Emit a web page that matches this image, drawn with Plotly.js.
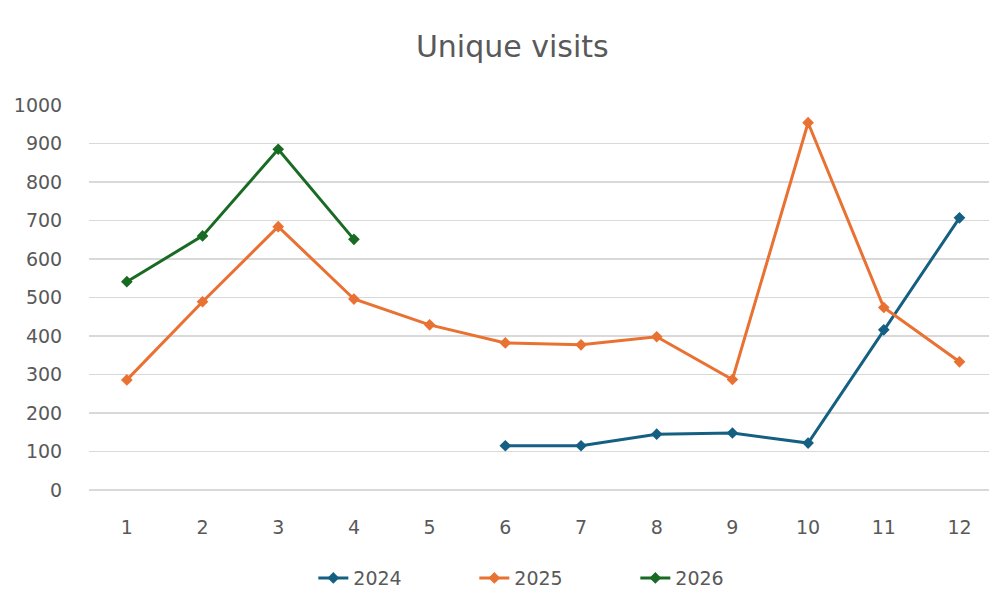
<!DOCTYPE html>
<html>
<head>
<meta charset="utf-8">
<script src="https://cdn.plot.ly/plotly-3.0.1.min.js"></script>
<style>html,body{margin:0;padding:0;background:#fff;}#chart{width:989px;height:599px;}</style>
</head>
<body>
<div id="chart"></div>
<script>
const months = [1,2,3,4,5,6,7,8,9,10,11,12];
const visits2024 = [null,null,null,null,null,115,115,145,148,122,416,707];
const visits2025 = [286,489,684,496,429,382,377,398,287,954,474,333];
const visits2026 = [541,660,885,651,null,null,null,null,null,null,null,null];
const seriesNames = ['2024','2025','2026'];
const colors = ['#156082','#E97132','#196B24'];
const yTicks = [0,100,200,300,400,500,600,700,800,900,1000];

const data = [visits2024, visits2025, visits2026].map((vals, i) => ({
  x: months, y: vals, name: seriesNames[i], type: 'scatter', mode: 'lines+markers',
  line: {color: colors[i], width: 3},
  marker: {symbol: 'diamond', size: 9, color: colors[i]},
  connectgaps: false
}));

const fam = '"DejaVu Sans", sans-serif';
const layout = {
  width: 989, height: 599,
  margin: {l: 89, r: 0, t: 105, b: 109},
  paper_bgcolor: '#fff', plot_bgcolor: '#fff',
  font: {family: fam, color: '#595959', size: 19},
  title: {text: 'Unique visits', x: 0.518, xanchor: 'center', y: 0.922, yanchor: 'middle',
          font: {size: 30, color: '#595959', family: fam}},
  xaxis: {range: [0.5, 12.39], tickvals: months, ticktext: months.map(String),
          showgrid: false, zeroline: false, showline: false,
          ticks: 'outside', ticklen: 20, tickcolor: 'rgba(0,0,0,0)', tickfont: {size: 19, color: '#595959', family: fam}},
  yaxis: {range: [0, 1000], tickvals: yTicks, showgrid: true, gridcolor: '#d9d9d9', gridwidth: 1.8,
          zeroline: true, zerolinecolor: '#d9d9d9', zerolinewidth: 1.8, showline: false,
          ticks: 'outside', ticklen: 22, tickcolor: 'rgba(0,0,0,0)', tickfont: {size: 19, color: '#595959', family: fam}},
  showlegend: true,
  legend: {orientation: 'h', xref: 'container', yref: 'container', x: 0.561, xanchor: 'center',
           y: 0.035, yanchor: 'middle', font: {size: 19, color: '#595959', family: fam},
           entrywidth: 116, entrywidthmode: 'pixels'}
};
Plotly.newPlot('chart', data, layout, {displayModeBar: false, staticPlot: true});
</script>
</body>
</html>
